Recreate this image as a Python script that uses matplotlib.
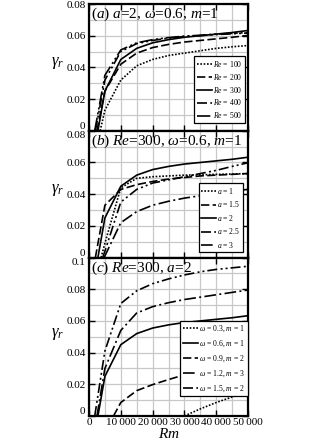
import matplotlib
matplotlib.use('Agg')
import matplotlib.pyplot as plt
from matplotlib.ticker import FixedLocator, FuncFormatter

plt.rcParams['font.family'] = ['Liberation Serif', 'DejaVu Serif']
plt.rcParams['mathtext.fontset'] = 'custom'
plt.rcParams['mathtext.rm'] = 'Liberation Serif'
plt.rcParams['mathtext.it'] = 'Liberation Serif:italic'

# Rm sample points (5000 step after onset)
rm_tail = [5000, 10000, 15000, 20000, 25000, 30000, 35000, 40000, 45000, 50000]

# panel (a): a=2, omega=0.6, m=1
re_labels = ['100', '200', '300', '400', '500']
re_onset = [3500, 2500, 2800, 2000, 1800]
g_re100 = [0, 0.013, 0.032, 0.041, 0.045, 0.0475, 0.049, 0.0505, 0.052, 0.053, 0.0538]
g_re200 = [0, 0.025, 0.042, 0.049, 0.0525, 0.0545, 0.056, 0.057, 0.058, 0.059, 0.0602]
g_re300 = [0, 0.025, 0.045, 0.052, 0.0555, 0.0575, 0.059, 0.060, 0.061, 0.062, 0.0633]
g_re400 = [0, 0.032, 0.050, 0.055, 0.057, 0.0585, 0.0595, 0.060, 0.0607, 0.0612, 0.0617]
g_re500 = [0, 0.035, 0.051, 0.0555, 0.0575, 0.0588, 0.0597, 0.0603, 0.061, 0.0615, 0.062]

# panel (b): Re=300, omega=0.6, m=1
a_labels = ['1', '1.5', '2', '2.5', '3']
a_onset = [3800, 2000, 2800, 4300, 4800]
g_a1 = [0, 0.009, 0.044, 0.050, 0.051, 0.0515, 0.052, 0.0522, 0.0525, 0.0527, 0.053]
g_a15 = [0, 0.033, 0.043, 0.046, 0.048, 0.0495, 0.0505, 0.0515, 0.052, 0.0525, 0.053]
g_a2 = g_re300
g_a25 = [0, 0.004, 0.035, 0.043, 0.047, 0.049, 0.051, 0.053, 0.055, 0.0575, 0.0598]
g_a3 = [0, 0.001, 0.022, 0.029, 0.033, 0.0355, 0.0375, 0.039, 0.0405, 0.042, 0.043]

# panel (c): Re=300, a=2
w_labels = ['0.3', '0.6', '0.9', '1.2', '1.5']
m_labels = ['1', '1', '2', '3', '2']
rm_w03 = [30000, 35000, 40000, 45000, 50000]
g_w03 = [0, 0.0045, 0.0085, 0.012, 0.015]
rm_w09 = [7700, 10000, 15000, 20000, 25000, 30000, 35000, 40000, 45000, 50000]
g_w09 = [0, 0.0085, 0.016, 0.0198, 0.023, 0.026, 0.0285, 0.0305, 0.0325, 0.034]
w12_onset = 2500
g_w12 = [0, 0.030, 0.054, 0.065, 0.069, 0.0715, 0.0735, 0.075, 0.0765, 0.078, 0.0795]
w15_onset = 1800
g_w15 = [0, 0.041, 0.071, 0.079, 0.0835, 0.0865, 0.089, 0.091, 0.0925, 0.0935, 0.0945]

x_major = [0, 10000, 20000, 30000, 40000, 50000]
x_minor = [5000, 15000, 25000, 35000, 45000]
y_major = [[0, 0.02, 0.04, 0.06, 0.08], [0, 0.02, 0.04, 0.06, 0.08], [0, 0.02, 0.04, 0.06, 0.08, 0.1]]
y_minor = [[0.01, 0.03, 0.05, 0.07], [0.01, 0.03, 0.05, 0.07], [0.01, 0.03, 0.05, 0.07, 0.09]]

dot = (0, (1, 1))
dash = (0, (5, 2))
dd1 = (0, (6, 2, 1.2, 1.8, 1.2, 1.8))
dd2 = (0, (8, 2, 1.2, 1.8, 1.2, 1.8))
dashdot = (0, (7, 2, 1.2, 2))
styles_a = [dot, dash, '-', dd1, dd2]
styles_b = [dot, dash, '-', dd1, dashdot]
styles_c = [dot, '-', dash, dashdot, dd1]


def xfmt(v, pos):
    if v == 0:
        return '0'
    return '{:,}'.format(int(v)).replace(',', '\u2009')


def yfmt(v, pos):
    if abs(v) < 1e-12:
        return '0'
    return '%g' % round(v, 3)


fig = plt.figure(figsize=(3.36, 4.42), dpi=100)
gs = fig.add_gridspec(3, 1, height_ratios=[8, 8, 10], hspace=0,
                      left=89 / 336, right=248 / 336, top=1 - 4 / 442, bottom=1 - 416 / 442)
axes = [fig.add_subplot(gs[i]) for i in range(3)]

# (a)
ax = axes[0]
for lab, on, g, ls in zip(re_labels, re_onset, [g_re100, g_re200, g_re300, g_re400, g_re500], styles_a):
    ax.plot([on] + rm_tail, g, color='black', lw=1.2, ls=ls, label=r'$\mathit{Re}$ = ' + lab)

# (b)
ax = axes[1]
for lab, on, g, ls in zip(a_labels, a_onset, [g_a1, g_a15, g_a2, g_a25, g_a3], styles_b):
    ax.plot([on] + rm_tail, g, color='black', lw=1.2, ls=ls, label=r'$\mathit{a}$ = ' + lab)

# (c)
ax = axes[2]
c_rm = [rm_w03, [re_onset[2]] + rm_tail, rm_w09, [w12_onset] + rm_tail, [w15_onset] + rm_tail]
c_g = [g_w03, g_re300, g_w09, g_w12, g_w15]
for w, m, x, g, ls in zip(w_labels, m_labels, c_rm, c_g, styles_c):
    ax.plot(x, g, color='black', lw=1.2, ls=ls,
            label=r'$\mathit{ω}$ = ' + w + r', $\mathit{m}$ = ' + m)

titles = [r'($\mathit{a}$) $\mathit{a}$=2, $\mathit{ω}$=0.6, $\mathit{m}$=1',
          r'($\mathit{b}$) $\mathit{Re}$=300, $\mathit{ω}$=0.6, $\mathit{m}$=1',
          r'($\mathit{c}$) $\mathit{Re}$=300, $\mathit{a}$=2']
ytops = [0.08, 0.08, 0.1]
leg_anchor = [(0.981, 0.061), (0.969, 0.04), (0.998, 0.125)]
leg_spacing = [0.38, 0.45, 0.6]

for i, ax in enumerate(axes):
    ax.set_xlim(0, 50000)
    ax.set_ylim(0, ytops[i])
    ax.xaxis.set_major_locator(FixedLocator(x_major))
    ax.xaxis.set_minor_locator(FixedLocator(x_minor))
    ax.yaxis.set_major_locator(FixedLocator(y_major[i]))
    ax.yaxis.set_minor_locator(FixedLocator(y_minor[i]))
    ax.xaxis.set_major_formatter(FuncFormatter(xfmt))
    ax.yaxis.set_major_formatter(FuncFormatter(yfmt))
    ax.grid(True, which='both', color='#c8c8c8', lw=0.9)
    ax.set_axisbelow(True)
    ax.tick_params(which='both', direction='in', top=True, right=True, labelsize=8, pad=2.5)
    ax.tick_params(axis='x', pad=1.5)
    ax.tick_params(which='major', length=4, width=1)
    ax.tick_params(which='minor', length=0)
    for s in ax.spines.values():
        s.set_linewidth(1.6)
    if i < 2:
        ax.tick_params(labelbottom=False)
    ax.set_ylabel(r'$\mathit{γ_r}$', rotation=0, fontsize=12)
    ax.yaxis.set_label_coords(-0.2, 0.47)
    ax.text(0.01, 0.985, titles[i], transform=ax.transAxes, ha='left', va='top', fontsize=11)
    leg = ax.legend(loc='lower right', bbox_to_anchor=leg_anchor[i], fontsize=5.5,
                    frameon=True, fancybox=False, edgecolor='black', framealpha=1,
                    handlelength=2.0, handletextpad=0.1, labelspacing=leg_spacing[i],
                    borderpad=0.35, borderaxespad=0)
    leg.get_frame().set_linewidth(0.9)

fig.canvas.draw()
# shift the end labels so neighbouring panels don't collide
for i, ax in enumerate(axes):
    ticks = ax.yaxis.get_major_ticks()
    ticks[0].label1.set_va('bottom')
    if i > 0:
        ticks[len(y_major[i]) - 1].label1.set_va('top')

axes[2].set_xlabel(r'$\mathit{Rm}$', fontsize=11)
axes[2].xaxis.set_label_coords(0.5, -0.068)

fig.savefig('out.png', dpi=100)
